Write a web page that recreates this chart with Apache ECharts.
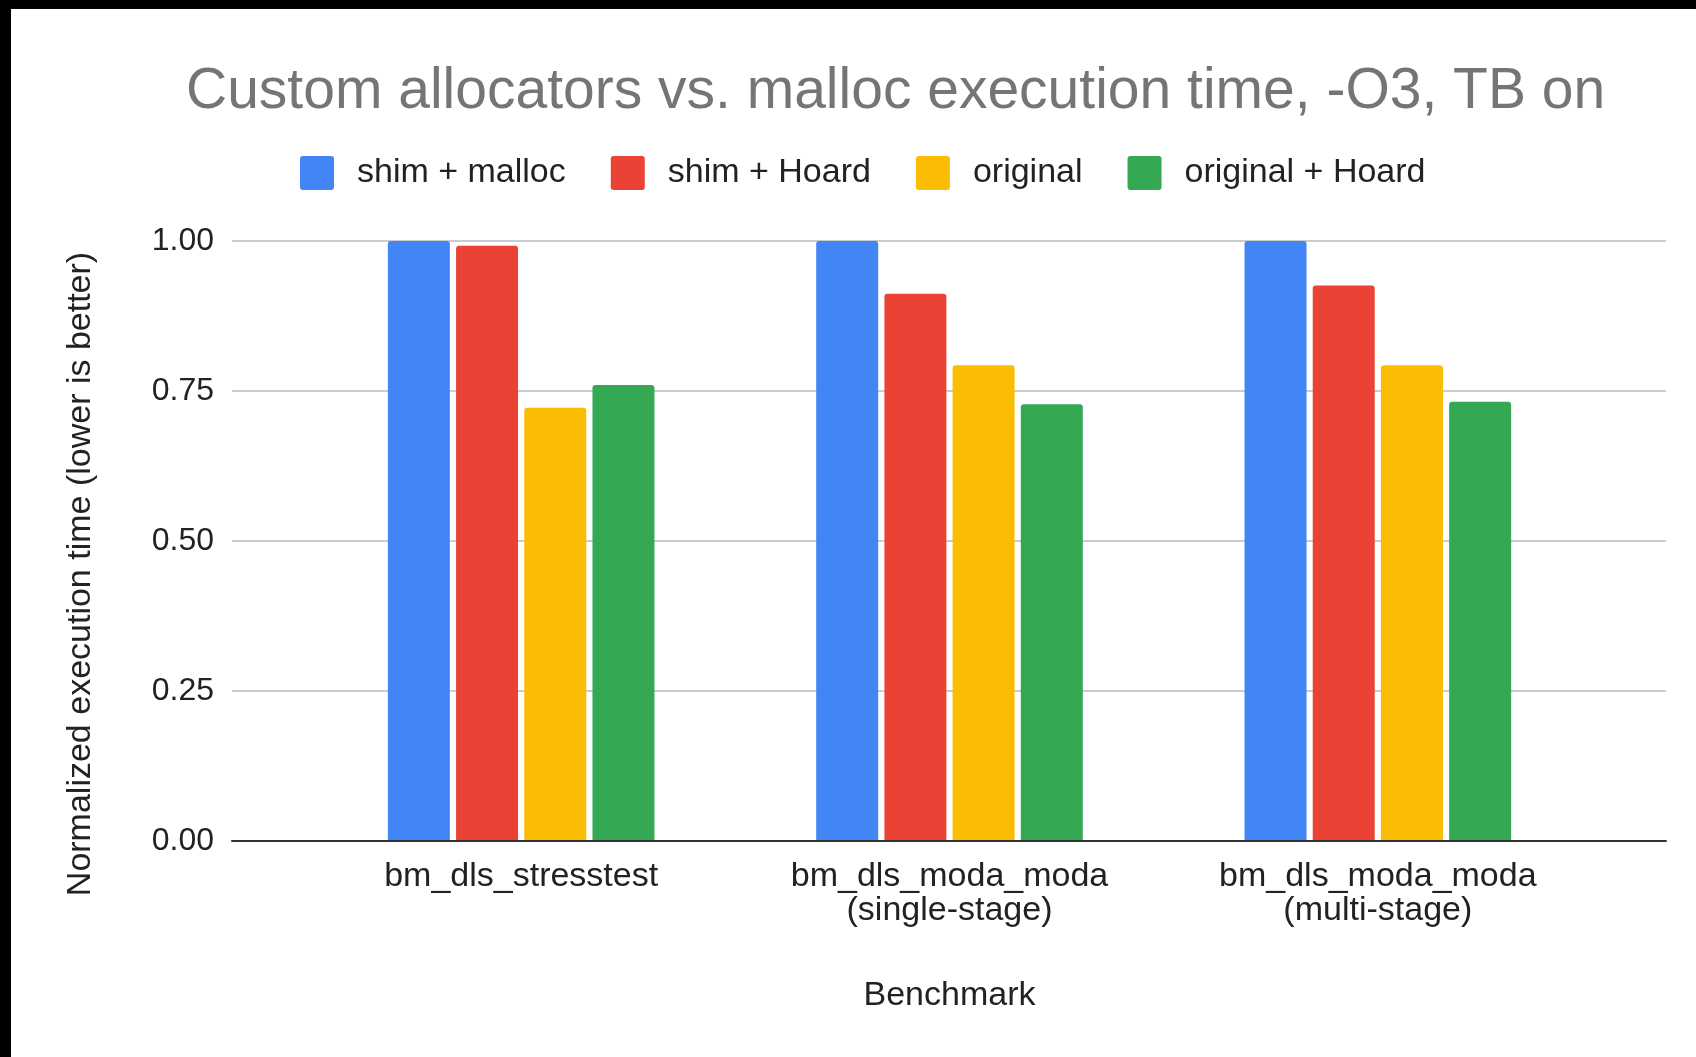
<!DOCTYPE html>
<html>
<head>
<meta charset="utf-8">
<script src="https://cdn.jsdelivr.net/npm/echarts@6/dist/echarts.min.js"></script>
<style>
  html, body { margin: 0; padding: 0; background: #000; }
  #chart { width: 1685px; height: 1048px; border-top: 9px solid #000; border-left: 11px solid #000; background: #fff; }
</style>
</head>
<body>
<div id="chart"></div>
<script>
const categories = ['bm_dls_stresstest', 'bm_dls_moda_moda\n(single-stage)', 'bm_dls_moda_moda\n(multi-stage)'];
const seriesNames = ['shim + malloc', 'shim + Hoard', 'original', 'original + Hoard'];
const shimMalloc = [1.00, 1.00, 1.00];
const shimHoard = [0.992, 0.912, 0.926];
const original = [0.722, 0.793, 0.793];
const originalHoard = [0.760, 0.728, 0.732];
const yTickLabels = ['0.00', '0.25', '0.50', '0.75', '1.00'];

const colors = ['#4285F4', '#EA4335', '#FBBC04', '#34A853'];
const values = [shimMalloc, shimHoard, original, originalHoard];
const FONT = "'Liberation Sans', Arial, sans-serif";

const chart = echarts.init(document.getElementById('chart'));
chart.setOption({
  animation: false,
  textStyle: { fontFamily: FONT },
  title: {
    text: 'Custom allocators vs. malloc execution time, -O3, TB on',
    left: 175, top: 55, padding: 0,
    textStyle: { fontFamily: FONT, fontSize: 57, fontWeight: 'normal', color: '#757575' }
  },
  legend: {
    left: 289, top: 147, padding: 0,
    itemWidth: 34, itemHeight: 34, itemGap: 45,
    icon: 'path://M3,0 h28 a3,3 0 0 1 3,3 v28 a3,3 0 0 1 -3,3 h-28 a3,3 0 0 1 -3,-3 v-28 a3,3 0 0 1 3,-3 z',
    textStyle: { fontFamily: FONT, fontSize: 34, color: '#222', padding: [0, 0, 0, 18] },
    data: seriesNames
  },
  grid: [
    { left: 221, right: 30, top: 232, bottom: 216, containLabel: false },
    { left: 296, right: 104, top: 232, bottom: 216, containLabel: false }
  ],
  xAxis: [
    { gridIndex: 0, type: 'value', min: 0, max: 1, z: 5,
      axisLine: { show: true, lineStyle: { color: '#333', width: 2 } },
      axisTick: { show: false }, axisLabel: { show: false }, splitLine: { show: false } },
    { gridIndex: 1, type: 'category', data: categories,
      axisLine: { show: false }, axisTick: { show: false },
      axisLabel: { fontFamily: FONT, fontSize: 34, color: '#222', margin: 18, lineHeight: 34.5 },
      name: 'Benchmark', nameLocation: 'middle', nameGap: 138,
      nameTextStyle: { fontFamily: FONT, fontSize: 34, color: '#222' } }
  ],
  yAxis: [
    { gridIndex: 0, type: 'value', min: 0, max: 1, interval: 0.25,
      axisLine: { show: false }, axisTick: { show: false },
      axisLabel: { fontFamily: FONT, fontSize: 32, color: '#222', margin: 18,
        formatter: (v) => yTickLabels[Math.round(v / 0.25)] },
      splitLine: { show: true, lineStyle: { color: '#cccccc', width: 2 } },
      name: 'Normalized execution time (lower is better)', nameLocation: 'middle', nameGap: 134,
      nameRotate: 90,
      nameTextStyle: { fontFamily: FONT, fontSize: 34, color: '#222', padding: [0, 66, 0, 0] } },
    { gridIndex: 1, type: 'value', min: 0, max: 1, show: false }
  ],
  series: seriesNames.map((name, i) => ({
    name: name,
    type: 'bar',
    xAxisIndex: 1, yAxisIndex: 1,
    data: values[i],
    barWidth: 62,
    barGap: '10%',
    itemStyle: { color: colors[i], borderRadius: [3, 3, 0, 0] }
  }))
});
</script>
</body>
</html>
